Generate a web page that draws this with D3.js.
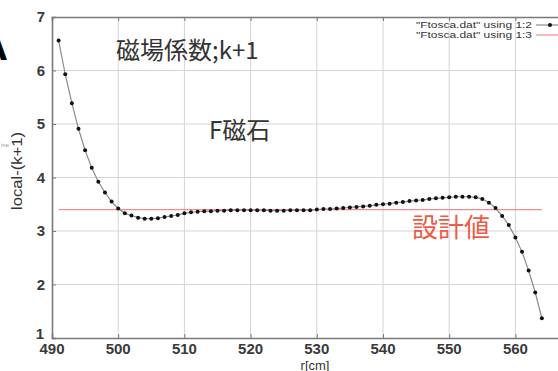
<!DOCTYPE html>
<html>
<head>
<meta charset="utf-8">
<script src="https://cdn.jsdelivr.net/npm/d3@7"></script>
<style>
  body { margin: 0; background: #fff; }
  svg { display: block; }
  .tick-label { font-family: "Liberation Sans", Arial, sans-serif; font-size: 15px; font-weight: bold; fill: #3a3a3a; }
</style>
</head>
<body>
<div id="chart"></div>
<script>
// r [cm] and local-(k+1)
const rValues = [491, 492, 493, 494, 495, 496, 497, 498, 499, 500,
    501, 502, 503, 504, 505, 506, 507, 508, 509, 510,
    511, 512, 513, 514, 515, 516, 517, 518, 519, 520,
    521, 522, 523, 524, 525, 526, 527, 528, 529, 530,
    531, 532, 533, 534, 535, 536, 537, 538, 539, 540,
    541, 542, 543, 544, 545, 546, 547, 548, 549, 550,
    551, 552, 553, 554, 555, 556, 557, 558, 559, 560,
    561, 562, 563, 564];
const kValues = [6.56, 5.93, 5.39, 4.91, 4.51, 4.18, 3.92, 3.72, 3.55, 3.42,
    3.33, 3.29, 3.25, 3.23, 3.23, 3.24, 3.26, 3.28, 3.30, 3.33,
    3.35, 3.36, 3.37, 3.37, 3.38, 3.38, 3.39, 3.39, 3.39, 3.39,
    3.39, 3.39, 3.38, 3.38, 3.38, 3.39, 3.39, 3.39, 3.39, 3.40,
    3.41, 3.41, 3.42, 3.43, 3.44, 3.45, 3.46, 3.47, 3.49, 3.50,
    3.51, 3.53, 3.54, 3.56, 3.57, 3.58, 3.60, 3.61, 3.62, 3.63,
    3.64, 3.64, 3.64, 3.63, 3.60, 3.53, 3.43, 3.28, 3.11, 2.88,
    2.61, 2.26, 1.85, 1.37];
const designValue = 3.4;
const xTicks = [490, 500, 510, 520, 530, 540, 550, 560];
const yTicks = [1, 2, 3, 4, 5, 6, 7];
const legendLabels = ['"Ftosca.dat" using 1:2', '"Ftosca.dat" using 1:3'];

const width = 558, height = 371;
const svg = d3.select('#chart').append('svg')
    .attr('width', width)
    .attr('height', height);

const x = d3.scaleLinear().domain([490, 570]).range([52, 581.6]);
const y = d3.scaleLinear().domain([1, 7]).range([338, 17]);

// grid
svg.append('g')
    .selectAll('line')
    .data(xTicks.slice(1))
    .join('line')
    .attr('x1', d => x(d)).attr('x2', d => x(d))
    .attr('y1', y(7)).attr('y2', y(1))
    .attr('stroke', '#d4d4d4').attr('stroke-width', 1);
svg.append('g')
    .selectAll('line')
    .data(yTicks.slice(1, -1))
    .join('line')
    .attr('x1', x(490)).attr('x2', width)
    .attr('y1', d => y(d)).attr('y2', d => y(d))
    .attr('stroke', '#d4d4d4').attr('stroke-width', 1);

// axes (inward ticks, gnuplot style)
const axisColor = '#7a7a7a';
const bottomAxis = svg.append('g')
    .attr('transform', `translate(0, ${y(1)})`)
    .call(d3.axisTop(x).tickValues(xTicks).tickSize(4).tickFormat(''));
const topAxis = svg.append('g')
    .attr('transform', `translate(0, ${y(7)})`)
    .call(d3.axisBottom(x).tickValues(xTicks).tickSize(4).tickFormat(''));
const leftAxis = svg.append('g')
    .attr('transform', `translate(${x(490)}, 0)`)
    .call(d3.axisRight(y).tickValues(yTicks).tickSize(4).tickFormat(''));
[bottomAxis, topAxis, leftAxis].forEach(g => {
    g.select('.domain').attr('stroke', axisColor).attr('stroke-width', 1.6);
    g.selectAll('.tick line').attr('stroke', axisColor).attr('stroke-width', 1);
});

// tick labels
svg.append('g')
    .selectAll('text')
    .data(xTicks)
    .join('text')
    .attr('class', 'tick-label')
    .attr('x', d => x(d))
    .attr('y', 354)
    .attr('text-anchor', 'middle')
    .text(d => d);
svg.append('g')
    .selectAll('text')
    .data(yTicks)
    .join('text')
    .attr('class', 'tick-label')
    .attr('x', d => d === 1 ? 44 : 45)
    .attr('y', d => d === 1 ? y(d) + 1 : y(d) + 5)
    .attr('text-anchor', 'end')
    .text(d => d);

// axis titles
svg.append('text')
    .attr('x', 315).attr('y', 369.5)
    .attr('text-anchor', 'middle')
    .attr('font-family', '"Liberation Sans", Arial, sans-serif')
    .attr('font-size', 13)
    .attr('fill', '#333')
    .text('r[cm]');
svg.append('text')
    .attr('transform', 'translate(22, 171) rotate(-90)')
    .attr('text-anchor', 'middle')
    .attr('font-family', '"Liberation Sans", Arial, sans-serif')
    .attr('font-size', 14)
    .attr('textLength', 78)
    .attr('lengthAdjust', 'spacingAndGlyphs')
    .attr('fill', '#333')
    .text('local-(k+1)');
svg.append('text')
    .attr('x', 1).attr('y', 147)
    .attr('font-family', '"Liberation Sans", Arial, sans-serif')
    .attr('font-size', 6)
    .attr('fill', '#999')
    .text('ine');

// design value line
svg.append('line')
    .attr('x1', x(d3.min(rValues))).attr('x2', x(d3.max(rValues)))
    .attr('y1', y(designValue)).attr('y2', y(designValue))
    .attr('stroke', '#f28b96').attr('stroke-width', 1.2);

// data line + points
const line = d3.line()
    .x((d, i) => x(rValues[i]))
    .y(d => y(d));
svg.append('path')
    .datum(kValues)
    .attr('d', line)
    .attr('fill', 'none')
    .attr('stroke', '#8a8a8a')
    .attr('stroke-width', 1.2);
svg.append('g')
    .selectAll('circle')
    .data(kValues)
    .join('circle')
    .attr('cx', (d, i) => x(rValues[i]))
    .attr('cy', d => y(d))
    .attr('r', 2)
    .attr('fill', '#111');

// legend
const legend = svg.append('g')
    .attr('font-family', '"Liberation Sans", Arial, sans-serif')
    .attr('font-size', 9.5)
    .attr('fill', '#333');
legendLabels.forEach((label, i) => {
    const ly = 25 + i * 10;
    legend.append('text')
        .attr('x', 532).attr('y', ly + 3)
        .attr('text-anchor', 'end')
        .attr('textLength', 116)
        .attr('lengthAdjust', 'spacingAndGlyphs')
        .text(label);
    legend.append('line')
        .attr('x1', 536).attr('x2', 558)
        .attr('y1', ly).attr('y2', ly)
        .attr('stroke', i === 0 ? '#8a8a8a' : '#f28b96')
        .attr('stroke-width', 1.2);
    if (i === 0) {
        legend.append('circle')
            .attr('cx', 550).attr('cy', ly).attr('r', 2)
            .attr('fill', '#111');
    }
});

// annotations
const cjk = '"Noto Sans CJK JP", "Noto Sans CJK SC", sans-serif';
svg.append('text')
    .attr('x', 116).attr('y', 59)
    .attr('font-family', cjk).attr('font-size', 24)
    .attr('fill', '#333')
    .text('磁場係数;k+1');
svg.append('text')
    .attr('x', 209).attr('y', 139)
    .attr('font-family', cjk).attr('font-size', 24)
    .attr('fill', '#333')
    .text('F磁石');
svg.append('text')
    .attr('x', 412).attr('y', 237)
    .attr('font-family', cjk).attr('font-size', 26)
    .attr('fill', '#ee5a45')
    .text('設計値');

// panel letter, cut off at the left edge
svg.append('text')
    .attr('x', 8).attr('y', 60)
    .attr('text-anchor', 'end')
    .attr('font-family', '"Liberation Sans", Arial, sans-serif')
    .attr('font-size', 42)
    .attr('font-weight', 'bold')
    .attr('fill', '#000')
    .text('A');
</script>
</body>
</html>
